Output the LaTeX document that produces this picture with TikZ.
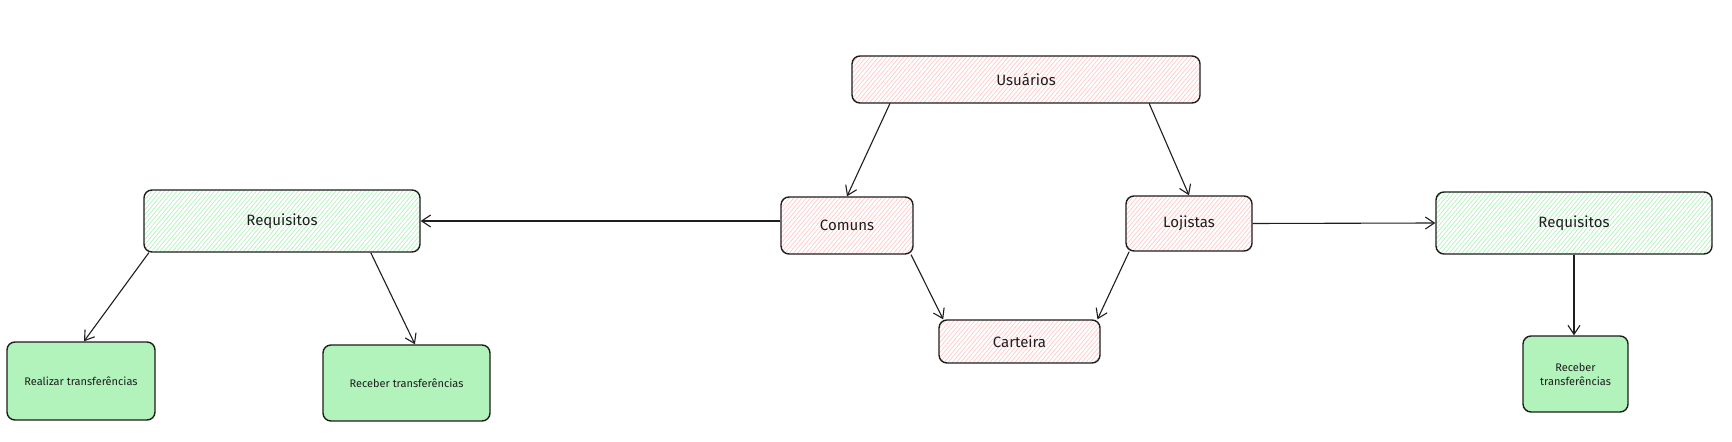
\documentclass[tikz,border=0pt]{standalone}
\usepackage{fontspec}
\setmainfont{Fira Sans}
\usetikzlibrary{arrows.meta,patterns.meta,calc}
\definecolor{stroke}{HTML}{1E1E1E}
\definecolor{pinkh}{HTML}{FFC9C9}
\definecolor{greenh}{HTML}{B2F2BB}
\definecolor{greenf}{HTML}{B2F2BB}
\tikzset{
  box/.style={draw=stroke, line width=0.7pt, rounded corners=4pt, inner sep=0pt,
    align=center, text=stroke, font=\fontsize{7.5}{9}\selectfont},
  pinkbox/.style={box, pattern={Lines[angle=50,distance=1.6pt,line width=0.35pt]}, pattern color=pinkh},
  greenhbox/.style={box, pattern={Lines[angle=50,distance=1.6pt,line width=0.35pt]}, pattern color=greenh},
  greenbox/.style={box, fill=greenf, font=\fontsize{5.5}{7}\selectfont},
  arr/.style={draw=stroke, line width=0.55pt, -{Straight Barb[length=4.5pt,width=6pt]}},
}
\begin{document}
\begin{tikzpicture}[x=0.5pt,y=-0.5pt]
\fill[white] (0,0) rectangle (1732,442);
\useasboundingbox (0,0) rectangle (1732,442);
\node[pinkbox, minimum width=174pt, minimum height=23.5pt] (usu) at (1026,79.5) {Usuários};
\node[pinkbox, minimum width=66pt, minimum height=28.5pt] (com) at (847,225.5) {Comuns};
\node[pinkbox, minimum width=63pt, minimum height=27.5pt] (loj) at (1189,223.5) {Lojistas};
\node[pinkbox, minimum width=80.5pt, minimum height=21.5pt] (car) at (1019.5,341.5) {Carteira};
\node[greenhbox, minimum width=138pt, minimum height=31pt] (reqL) at (282,221) {Requisitos};
\node[greenhbox, minimum width=138pt, minimum height=31pt] (reqR) at (1574,223) {Requisitos};
\node[greenbox, minimum width=74pt, minimum height=39pt] (real) at (81,381) {Realizar transferências};
\node[greenbox, minimum width=83.5pt, minimum height=38pt] (recL) at (406.5,383) {Receber transferências};
\node[greenbox, minimum width=52.5pt, minimum height=38pt] (recR) at (1575.5,374) {Receber\\transferências};

\draw[arr] ($(usu.south west)!0.11!(usu.south east)$) -- (com.north);
\draw[arr] ($(usu.south west)!0.853!(usu.south east)$) -- (loj.north);
\draw[arr] (com.west |- reqL.east) -- (reqL.east);
\draw[arr] (loj.east) -- (reqR.west);
\draw[arr] ($(com.south west)!0.98!(com.south east)$) -- ($(car.north west)!0.03!(car.north east)$);
\draw[arr] ($(loj.south west)!0.03!(loj.south east)$) -- ($(car.north west)!0.98!(car.north east)$);
\draw[arr] ($(reqL.south west)!0.02!(reqL.south east)$) -- ($(real.north west)!0.52!(real.north east)$);
\draw[arr] ($(reqL.south west)!0.82!(reqL.south east)$) -- ($(recL.north west)!0.55!(recL.north east)$);
\draw[arr] (reqR.south) -- (reqR.south |- recR.north);
\end{tikzpicture}
\end{document}
